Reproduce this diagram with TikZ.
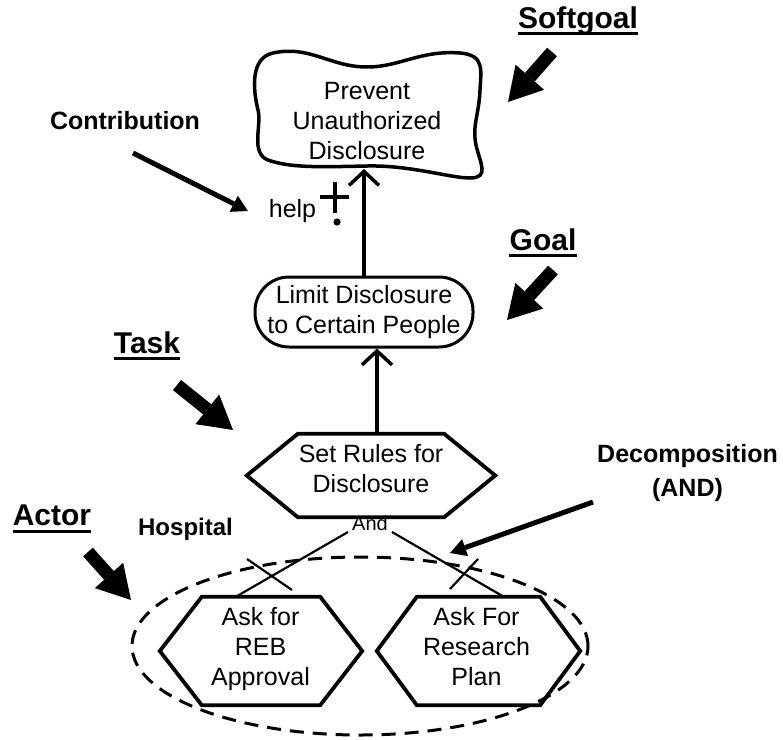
\documentclass[tikz,border=0pt]{standalone}
\usepackage{fontspec}
\setmainfont{Liberation Sans}
\usetikzlibrary{arrows.meta,shapes.geometric}

\tikzset{
  x=1pt, y=-1pt,
  txt/.style={inner sep=0pt, align=center, font=\fontsize{25pt}{30pt}\selectfont},
  heading/.style={inner sep=0pt, font=\fontsize{30pt}{34pt}\selectfont\bfseries},
  boldlabel/.style={inner sep=0pt, align=center, font=\fontsize{25pt}{30pt}\selectfont\bfseries},
  uline/.style={line width=3pt},
  goalbox/.style={draw, line width=3pt, rounded corners=34pt, inner sep=0pt, align=center,
    font=\fontsize{25pt}{30pt}\selectfont},
  frame/.style={inner sep=0pt, minimum width=#1},
  hexline/.style={line width=3.8pt, line join=miter},
  softline/.style={line width=3.5pt},
  link/.style={line width=3.5pt, -{Straight Barb[length=14pt,width=30pt,line width=3.5pt]}},
  andline/.style={line width=2.2pt},
  blockarrow/.style={line width=13pt, -{Triangle[length=33pt,width=38pt,line width=0pt]}},
  thinarrow/.style={line width=5pt, -{Triangle[length=16pt,width=18pt,line width=0pt]}},
  actorline/.style={draw, ellipse, line width=3pt, dash pattern=on 14pt off 9pt, inner sep=0pt}
}

% hexagonal task outline around a rectangular frame node; #2 is the depth of the side points
\newcommand\hexoutline[2]{%
  \draw[hexline] ([xshift=#2]#1.north west) -- ([xshift=-#2]#1.north east) -- (#1.east)
    -- ([xshift=-#2]#1.south east) -- ([xshift=#2]#1.south west) -- (#1.west) -- cycle;}

\begin{document}
\begin{tikzpicture}
\useasboundingbox (0,0) rectangle (783,739);

% ---- softgoal (cloud) ----
\draw[softline] (273,53) .. controls (310,45) and (330,67) .. (367,67)
  .. controls (400,67) and (420,50) .. (460,53)
  .. controls (485,55) and (481,70) .. (480,90)
  .. controls (479,115) and (472,125) .. (476,145)
  .. controls (480,163) and (490,178) .. (470,178)
  .. controls (450,178) and (410,165) .. (367,166)
  .. controls (320,167) and (290,168) .. (268,160)
  .. controls (250,153) and (262,125) .. (258,110)
  .. controls (253,90) and (250,58) .. (273,53) -- cycle;
\node[txt] (soft) at (367,121) {Prevent\\Unauthorized\\Disclosure};
\coordinate (softbottom) at (365,169);

% ---- goal ----
\node[goalbox, minimum width=218pt, minimum height=70pt] (goal) at (364,312)
  {Limit Disclosure\\to Certain People};

% ---- tasks ----
\node[frame=248pt, minimum height=83pt] (rules) at (371,475.5) {};
\hexoutline{rules}{51pt}
\node[txt] (rulestext) at (371,469) {Set Rules for\\Disclosure};

\node[frame=202pt, minimum height=108pt] (reb) at (261,651) {};
\hexoutline{reb}{42pt}
\node[txt] (rebtext) at (260.5,649.5) {Ask for\\REB\\Approval};

\node[frame=203pt, minimum height=108pt] (plan) at (478.5,651) {};
\hexoutline{plan}{40pt}
\node[txt] (plantext) at (476.5,647) {Ask For\\Research\\Plan};

% ---- actor boundary ----
\node[actorline, minimum width=456pt, minimum height=178pt] (hospital) at (360,646) {};
\node[boldlabel, anchor=base, font=\fontsize{24pt}{28pt}\selectfont\bfseries] (hosplabel) at (185.5,535) {Hospital};

% ---- links ----
\draw[link] (goal.north) -- (goal.north |- softbottom);
\draw[link] (rules.north -| 377,0) -- (goal.south -| 377,0);

% contribution label
\node[txt, anchor=base] (help) at (292.5,217) {help};
\draw[line width=4pt] (320,197) -- (349,197) (335,182) -- (335,213);
\fill (337,222) circle (3.6pt);

% AND decomposition
\node[inner sep=0pt, anchor=base, font=\fontsize{20pt}{22pt}\selectfont] (andlabel) at (370,530) {And};
\coordinate (andL) at (348,532);
\coordinate (andR) at (392,532);
\draw[andline] (andL) -- ([xshift=76pt]reb.north west);
\draw[andline] (andR) -- ([xshift=127pt]plan.north west);
\draw[andline] (247,559) -- (292,590);
\draw[andline] (478,559) -- (450,589);

% ---- legend labels and pointers ----
\node[heading, anchor=base] (lsoft) at (578,28) {Softgoal};
\draw[uline] ([yshift=-5pt]lsoft.base west) -- ([yshift=-5pt]lsoft.base east);
\coordinate (softtail) at (552,52);
\coordinate (softtip) at (508,102);
\draw[blockarrow] (softtail) -- (softtip);

\node[heading, anchor=base] (lgoal) at (543,250) {Goal};
\draw[uline] ([yshift=-5pt]lgoal.base west) -- ([yshift=-5pt]lgoal.base east);
\coordinate (goaltail) at (553,270);
\coordinate (goaltip) at (507,320);
\draw[blockarrow] (goaltail) -- (goaltip);

\node[heading, anchor=base] (ltask) at (147,353) {Task};
\draw[uline] ([yshift=-5pt]ltask.base west) -- ([yshift=-5pt]ltask.base east);
\coordinate (tasktail) at (177,385);
\coordinate (tasktip) at (233,430);
\draw[blockarrow] (tasktail) -- (tasktip);

\node[heading, anchor=base] (lactor) at (52,525) {Actor};
\draw[uline] ([yshift=-6pt]lactor.base west) -- ([yshift=-6pt]lactor.base east);
\coordinate (actortail) at (88,552);
\coordinate (actortip) at (131,600);
\draw[blockarrow] (actortail) -- (actortip);

\node[boldlabel, anchor=base] (lcontrib) at (125,129) {Contribution};
\coordinate (contribtail) at (133,153);
\coordinate (contribtip) at (248,211);
\draw[thinarrow] (contribtail) -- (contribtip);

\node[boldlabel] (ldecomp) at (687.5,473) {Decomposition\\[4pt](AND)};
\coordinate (decomptail) at (593,502);
\coordinate (decomptip) at (450,553);
\draw[thinarrow] (decomptail) -- (decomptip);

\end{tikzpicture}
\end{document}
